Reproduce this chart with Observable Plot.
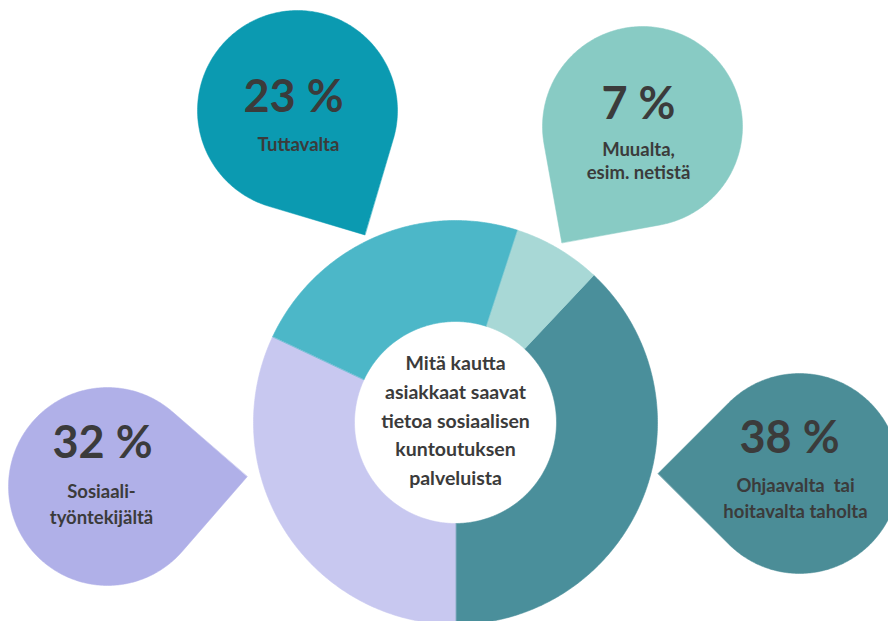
<!DOCTYPE html>
<html>
<head>
<meta charset="utf-8">
<script src="https://cdn.jsdelivr.net/npm/d3@7"></script>
<script src="https://cdn.jsdelivr.net/npm/@observablehq/plot@0.6"></script>
<style>
  html, body { margin: 0; padding: 0; background: #ffffff; }
  #chart svg { display: block; }
</style>
</head>
<body>
<div id="chart"></div>
<script>
// ---- Data ----
const categories = ["Ohjaavalta tai hoitavalta taholta", "Sosiaalityöntekijältä", "Tuttavalta", "Muualta, esim. netistä"];
const shares = [38, 32, 23, 7];
const shareLabels = ["38 %", "32 %", "23 %", "7 %"];
const calloutTexts = ["Ohjaavalta  tai\nhoitavalta taholta", "Sosiaali-\ntyöntekijältä", "Tuttavalta", "Muualta,\nesim. netistä"];
const centerTitle = ["Mitä kautta", "asiakkaat saavat", "tietoa sosiaalisen", "kuntoutuksen", "palveluista"];

// ---- Styles / layout (not data) ----
const sliceColors = ["#4a8f9b", "#c8c8f0", "#4cb7c8", "#a8d8d6"];
const calloutColors = ["#4b8d97", "#b0b0e8", "#0b9ab1", "#88cbc4"];
const textColor = "#3b3b3b";
const W = 888, H = 621;
const donut = {cx: 455, cy: 422, outer: 202, inner: 101};
const calloutLayout = [
  {cx: 799, cy: 473, r: 100, tip: 180,   numX: 789, numY: 438, labX: 795, labY: 496},
  {cx: 107, cy: 486, r: 99,  tip: -4,    numX: 102, numY: 443, labX: 101, labY: 502},
  {cx: 297, cy: 110, r: 100, tip: 61.6,  numX: 293, numY: 97,  labX: 298, labY: 143},
  {cx: 642, cy: 126, r: 100, tip: 124.8, numX: 638, numY: 104, labX: 638, labY: 160}
];
const labelLineHeights = [1.4, 1.4, 1.3, 1.25];

// ---- Donut slices from the shares ----
const total = d3.sum(shares);
const start = Math.PI - (shares[0] / total) * 2 * Math.PI; // first slice ends at the bottom
const arcs = d3.pie().sort(null).startAngle(start).endAngle(start + 2 * Math.PI)(shares);
const slicePts = [];
arcs.forEach((a, i) => {
  const n = Math.max(4, Math.ceil((a.endAngle - a.startAngle) / (Math.PI / 360)));
  for (let k = 0; k <= n; k++) {
    const t = a.startAngle + (a.endAngle - a.startAngle) * k / n;
    slicePts.push({i, px: donut.cx + donut.outer * Math.sin(t), py: donut.cy - donut.outer * Math.cos(t)});
  }
  for (let k = n; k >= 0; k--) {
    const t = a.startAngle + (a.endAngle - a.startAngle) * k / n;
    slicePts.push({i, px: donut.cx + donut.inner * Math.sin(t), py: donut.cy - donut.inner * Math.cos(t)});
  }
});

// ---- Teardrop callouts ----
const dropPts = [];
calloutLayout.forEach((c, i) => {
  const tipRad = c.tip * Math.PI / 180;
  dropPts.push({i, px: c.cx + c.r * Math.SQRT2 * Math.cos(tipRad), py: c.cy + c.r * Math.SQRT2 * Math.sin(tipRad)});
  const n = 270;
  for (let k = 0; k <= n; k++) {
    const t = tipRad + (45 + k) * Math.PI / 180;
    dropPts.push({i, px: c.cx + c.r * Math.cos(t), py: c.cy + c.r * Math.sin(t)});
  }
});

const idx = d3.range(categories.length);
const font = "Lato, 'Open Sans', sans-serif";

const chart = Plot.plot({
  width: W,
  height: H,
  margin: 0,
  x: {domain: [0, W], axis: null},
  y: {domain: [H, 0], axis: null},
  color: {type: "identity"},
  style: {background: "#ffffff", fontFamily: font},
  marks: [
    Plot.line(dropPts, {x: "px", y: "py", z: "i", fill: d => calloutColors[d.i], stroke: d => calloutColors[d.i], strokeWidth: 0.5, curve: "linear-closed"}),
    Plot.line(slicePts, {x: "px", y: "py", z: "i", fill: d => sliceColors[d.i], stroke: d => sliceColors[d.i], strokeWidth: 0.6, curve: "linear-closed"}),
    Plot.text(idx, {x: i => calloutLayout[i].numX, y: i => calloutLayout[i].numY, text: i => shareLabels[i], fontSize: 45, fontWeight: 700, fill: textColor, fontFamily: font}),
    ...idx.map(i => Plot.text([calloutTexts[i]], {x: calloutLayout[i].labX, y: calloutLayout[i].labY, text: d => d, fontSize: 18.5, fontWeight: 700, lineHeight: labelLineHeights[i], fill: textColor, fontFamily: font})),
    Plot.text([centerTitle.join("\n")], {x: donut.cx, y: donut.cy - 4, text: d => d, fontSize: 19.5, fontWeight: 700, lineHeight: 1.47, fill: textColor, fontFamily: font})
  ]
});
document.getElementById("chart").appendChild(chart);
</script>
</body>
</html>
